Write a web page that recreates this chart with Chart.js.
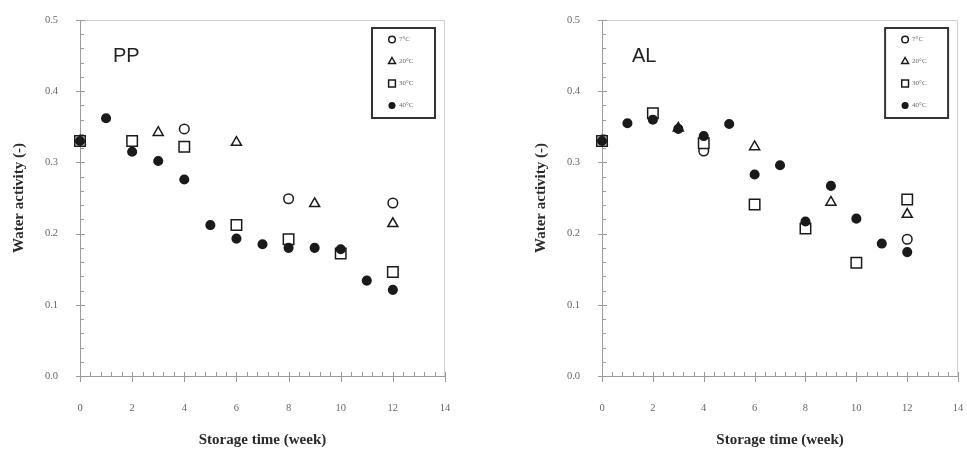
<!DOCTYPE html>
<html>
<head>
<meta charset="utf-8">
<title>Water activity during storage</title>
<script src="https://cdn.jsdelivr.net/npm/chart.js@4.4.1/dist/chart.umd.min.js"></script>
<style>
  html, body { margin: 0; padding: 0; background: #fff; }
  body { width: 967px; height: 456px; position: relative; overflow: hidden; }
  .panel { position: absolute; top: 0; }
  #panelPP { left: 0; }
  #panelAL { left: 522px; }
</style>
</head>
<body>
<div class="panel" id="panelPP"><canvas id="chartPP" width="480" height="456"></canvas></div>
<div class="panel" id="panelAL"><canvas id="chartAL" width="445" height="456"></canvas></div>
<script>
'use strict';

// ==================== DATA ====================
const tempLabels = ['7°C', '20°C', '30°C', '40°C'];

// sampling weeks for each storage temperature
const weeks7 = [0, 4, 8, 12];
const weeks20 = [0, 3, 6, 9, 12];
const weeks30 = [0, 2, 4, 6, 8, 10, 12];
const weeks40 = [0, 1, 2, 3, 4, 5, 6, 7, 8, 9, 10, 11, 12];

// PP packaging
const ppAw7 = [0.330, 0.347, 0.249, 0.243];
const ppAw20 = [0.330, 0.342, 0.328, 0.242, 0.214];
const ppAw30 = [0.330, 0.330, 0.322, 0.212, 0.192, 0.172, 0.146];
const ppAw40 = [0.330, 0.362, 0.315, 0.302, 0.276, 0.212, 0.193, 0.185, 0.180, 0.180, 0.178, 0.134, 0.121];

// AL packaging
const alAw7 = [0.330, 0.316, 0.212, 0.192];
const alAw20 = [0.330, 0.348, 0.322, 0.244, 0.227];
const alAw30 = [0.330, 0.369, 0.327, 0.241, 0.207, 0.159, 0.248];
const alAw40 = [0.330, 0.355, 0.360, 0.347, 0.337, 0.354, 0.283, 0.296, 0.217, 0.267, 0.221, 0.186, 0.174];

const xTicks = [0, 2, 4, 6, 8, 10, 12, 14];
const yTicks = [0, 0.1, 0.2, 0.3, 0.4, 0.5];

// ==================== STYLE ====================
const INK = '#1a1a1a';
const AXIS = '#9a9a9a';
const FRAME = '#d0d0d0';
const SERIF = "'Liberation Serif', 'Times New Roman', serif";

const markers = [
  { style: 'circle', radius: 4.8, fill: '#fff', legendR: 3.3 },
  { style: 'triangle', radius: 5.8, fill: '#fff', legendR: 4.0 },
  { style: 'rect', radius: 7.4, fill: '#fff', legendR: 4.8 },
  { style: 'circle', radius: 4.3, fill: INK, legendR: 2.8 }
];

function toPoints(weeks, values) {
  return weeks.map((w, i) => ({ x: w, y: values[i] }));
}

function buildDatasets(series) {
  return series.map((s, i) => ({
    label: tempLabels[i],
    data: toPoints(s.weeks, s.values),
    pointStyle: markers[i].style,
    pointRadius: markers[i].radius,
    pointBorderWidth: 1.5,
    pointBorderColor: INK,
    pointBackgroundColor: markers[i].fill,
    showLine: false,
    clip: false,
    order: series.length - i   // 40°C drawn on top
  }));
}

// ==================== PANEL DECORATION ====================
// minor/major tick marks, light frame, panel tag and the boxed legend
const panelDecor = {
  id: 'panelDecor',
  beforeDatasetsDraw(chart, args, opts) {
    const { ctx, chartArea: a, scales: { x, y } } = chart;
    ctx.save();

    // light frame on top and right
    ctx.strokeStyle = FRAME;
    ctx.lineWidth = 1;
    ctx.beginPath();
    ctx.moveTo(a.left, a.top + 0.5);
    ctx.lineTo(a.right - 0.5, a.top + 0.5);
    ctx.lineTo(a.right - 0.5, a.bottom);
    ctx.stroke();

    ctx.strokeStyle = AXIS;
    ctx.lineWidth = 1;
    ctx.beginPath();
    // y: minor every 0.02, major every 0.1
    for (let i = 0; i <= 25; i++) {
      const py = Math.round(y.getPixelForValue(i * 0.02)) + 0.5;
      const major = i % 5 === 0;
      ctx.moveTo(a.left - (major ? 4 : 0), py);
      ctx.lineTo(a.left + (major ? 5 : 4), py);
    }
    // x: minor every 0.4, major every 2
    for (let i = 0; i <= 35; i++) {
      const px = Math.round(x.getPixelForValue(i * 0.4)) + 0.5;
      const major = i % 5 === 0;
      ctx.moveTo(px, a.bottom - 4);
      ctx.lineTo(px, a.bottom + (major ? 6 : 0));
    }
    ctx.stroke();

    // panel tag
    ctx.fillStyle = '#222';
    ctx.font = "20px 'Liberation Sans', Arial, sans-serif";
    ctx.textBaseline = 'alphabetic';
    ctx.textAlign = 'left';
    ctx.fillText(opts.tag, a.left + opts.tagDx, a.top + 42);
    ctx.restore();
  },
  afterDatasetsDraw(chart) {
    const { ctx, chartArea: a } = chart;
    const w = 63, h = 90;
    const bx = a.right - 10 - w, by = a.top + 8;
    ctx.save();
    ctx.fillStyle = '#fff';
    ctx.fillRect(bx, by, w, h);
    ctx.strokeStyle = '#333';
    ctx.lineWidth = 2;
    ctx.strokeRect(bx, by, w, h);

    ctx.font = '7px ' + SERIF;
    ctx.textBaseline = 'middle';
    ctx.textAlign = 'left';
    chart.data.datasets.forEach((ds, i) => {
      const cx = bx + 20, cy = by + 11.5 + i * 22;
      const m = markers[i];
      ctx.fillStyle = m.fill;
      ctx.strokeStyle = INK;
      ctx.lineWidth = 1.5;
      ctx.beginPath();
      if (m.style === 'circle') {
        ctx.arc(cx, cy, m.legendR, 0, Math.PI * 2);
      } else if (m.style === 'triangle') {
        const r = m.legendR;
        ctx.moveTo(cx, cy - r);
        ctx.lineTo(cx + r * 0.866, cy + r * 0.5);
        ctx.lineTo(cx - r * 0.866, cy + r * 0.5);
        ctx.closePath();
      } else {
        const s = m.legendR * 0.707;
        ctx.rect(cx - s, cy - s, 2 * s, 2 * s);
      }
      ctx.fill();
      ctx.stroke();
      ctx.fillStyle = '#666';
      ctx.fillText(ds.label, cx + 7, cy);
    });
    ctx.restore();
  }
};

// ==================== CHART FACTORY ====================
function makePanel(canvasId, tag, tagDx, series, padRight) {
  const ctx = document.getElementById(canvasId).getContext('2d');
  return new Chart(ctx, {
    type: 'scatter',
    data: { datasets: buildDatasets(series) },
    options: {
      responsive: false,
      animation: false,
      events: [],
      layout: { padding: { top: 20, right: padRight, bottom: 0, left: 0 } },
      plugins: {
        legend: { display: false },
        tooltip: { enabled: false },
        panelDecor: { tag: tag, tagDx: tagDx }
      },
      scales: {
        x: {
          type: 'linear',
          min: 0,
          max: 14,
          afterBuildTicks: s => { s.ticks = xTicks.map(v => ({ value: v })); },
          afterFit: s => {
            s.height = 80;
            s.paddingLeft = 0;
            s.paddingRight = 0;
          },
          grid: { display: false, drawTicks: false },
          border: { display: true, color: AXIS, width: 1 },
          ticks: {
            padding: 26,
            color: '#666',
            font: { family: SERIF, size: 10.5 },
            callback: v => String(v)
          },
          title: {
            display: true,
            text: 'Storage time (week)',
            color: '#2a2a2a',
            font: { family: SERIF, size: 15, weight: 'bold' },
            padding: { top: 0, bottom: 7 }
          }
        },
        y: {
          type: 'linear',
          min: 0,
          max: 0.5,
          afterBuildTicks: s => { s.ticks = yTicks.map(v => ({ value: v })); },
          afterFit: s => {
            s.width = 80;
            s.paddingTop = 0;
            s.paddingBottom = 0;
          },
          grid: { display: false, drawTicks: false },
          border: { display: true, color: AXIS, width: 1 },
          ticks: {
            padding: 22,
            color: '#666',
            font: { family: SERIF, size: 10.5 },
            callback: v => v.toFixed(1)
          },
          title: {
            display: true,
            text: 'Water activity (-)',
            color: '#2a2a2a',
            font: { family: SERIF, size: 15, weight: 'bold' },
            padding: { top: 10, bottom: 0 }
          }
        }
      }
    },
    plugins: [panelDecor]
  });
}

makePanel('chartPP', 'PP', 33, [
  { weeks: weeks7, values: ppAw7 },
  { weeks: weeks20, values: ppAw20 },
  { weeks: weeks30, values: ppAw30 },
  { weeks: weeks40, values: ppAw40 }
], 35);

makePanel('chartAL', 'AL', 30, [
  { weeks: weeks7, values: alAw7 },
  { weeks: weeks20, values: alAw20 },
  { weeks: weeks30, values: alAw30 },
  { weeks: weeks40, values: alAw40 }
], 7);
</script>
</body>
</html>
